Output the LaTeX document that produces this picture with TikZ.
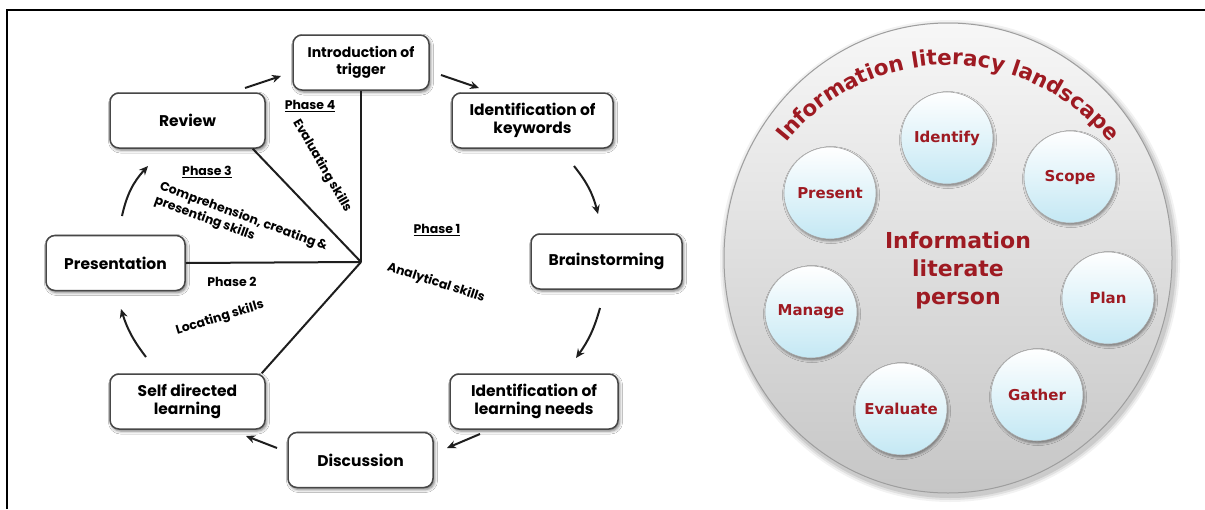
\documentclass[tikz,border=0pt]{standalone}
\usepackage{fontspec}
\newfontfamily\popf{Poppins Bold}
\newfontfamily\dvs{DejaVu Sans}
\usetikzlibrary{arrows.meta,shapes.geometric,shadows.blur,decorations.text,calc}
\definecolor{ilred}{RGB}{158,26,34}
\definecolor{bubblebot}{RGB}{196,232,244}
\definecolor{ink}{RGB}{30,30,30}

\begin{document}
\begin{tikzpicture}[x=1pt,y=1pt,
  stepbox/.style={draw=black!72, line width=1.5pt, rounded corners=9pt, fill=white,
    align=center, inner sep=0pt, minimum height=55pt,
    font=\popf\fontsize{15.5}{18.5}\selectfont,
    blur shadow={shadow xshift=1.5pt, shadow yshift=-2pt, shadow blur radius=3pt, shadow opacity=55}},
  flow/.style={ink, line width=2pt, -{Stealth[length=9pt,width=8pt]}},
  spoke/.style={ink, line width=2pt},
  lbl/.style={font=\popf\fontsize{12.5}{15}\selectfont, inner sep=0pt, align=left},
  bubble/.style={circle, minimum size=92pt, inner sep=0pt, draw=black!35, line width=0.6pt,
    top color=white, bottom color=bubblebot, text=ilred,
    font=\dvs\bfseries\fontsize{15}{18}\selectfont,
    blur shadow={shadow xshift=1pt, shadow yshift=-2pt, shadow blur radius=2.5pt, shadow opacity=45}},
]
\useasboundingbox (0,0) rectangle (1205,-509);
\fill[white] (0,0) rectangle (1205,-509);

% ---------- problem-based learning cycle ----------
\node[stepbox, minimum width=136pt, font=\popf\fontsize{14}{17}\selectfont] (intro) at (361,-62.5) {Introduction of\\trigger};
\node[stepbox, minimum width=155pt] (review)   at (187.5,-120.5) {Review};
\node[stepbox, minimum width=161pt] (keyw)     at (532.5,-120.5) {Identification of\\keywords};
\node[stepbox, minimum width=139pt] (pres)     at (115.5,-263)   {Presentation};
\node[stepbox, minimum width=151pt] (brain)    at (606.5,-261.5) {Brainstorming};
\node[stepbox, minimum width=155pt] (self)     at (187.5,-401.5) {Self directed\\learning};
\node[stepbox, minimum width=168pt] (idln)     at (534,-401.5)   {Identification of\\learning needs};
\node[stepbox, minimum width=145pt] (disc)     at (360.5,-460)   {Discussion};

% spokes meeting at the hub
\coordinate (hub) at (361,-262);
\draw[spoke] (intro.south) -- (hub);
\draw[spoke] ($(review.south east)+(-13,0)$) -- (hub);
\draw[spoke] (pres.east) -- (hub);
\draw[spoke] ($(self.north east)+(-4,0)$) -- (hub);

% frame
\draw[line width=1.6pt, black] (7,-509) -- (7,-10) -- (1205,-10);

% cycle arrows
\coordinate (a1s) at (245,-88);  \coordinate (a1e) at (281,-76);
\coordinate (a2s) at (441,-75);  \coordinate (a2e) at (479,-88);
\coordinate (a3s) at (574,-166); \coordinate (a3e) at (598,-214);
\coordinate (a4s) at (600,-308); \coordinate (a4e) at (576,-358);
\coordinate (a5s) at (480,-434); \coordinate (a5e) at (447,-448);
\coordinate (a6s) at (277,-448); \coordinate (a6e) at (246,-436);
\coordinate (a7s) at (146,-357); \coordinate (a7e) at (121,-309);
\coordinate (a8s) at (122,-216); \coordinate (a8e) at (148,-166);
\draw[flow] (a1s) -- (a1e);
\draw[flow] (a2s) -- (a2e);
\draw[flow] (a3s) to[bend left=12] (a3e);
\draw[flow] (a4s) to[bend left=10] (a4e);
\draw[flow] (a5s) -- (a5e);
\draw[flow] (a6s) -- (a6e);
\draw[flow] (a7s) to[bend left=10] (a7e);
\draw[flow] (a8s) to[bend left=15] (a8e);

% phase labels
\node[lbl] (ph4) at (310,-106) {\underline{Phase 4}};
\node[lbl, rotate=-60] (eval) at (322,-166) {Evaluating skills};
\node[lbl] (ph3) at (207,-172) {\underline{Phase 3}};
\node[lbl, rotate=-20] (comp) at (241,-224) {Comprehension, creating \&\\presenting skills};
\node[lbl] (ph1) at (437,-230) {\underline{Phase 1}};
\node[lbl, rotate=-18] (anal) at (436,-283) {Analytical skills};
\node[lbl] (ph2) at (232,-282) {Phase 2};
\node[lbl, rotate=17] (loc) at (220,-318) {Locating skills};

% ---------- information literacy landscape ----------
% soft shadow under the landscape disc
\foreach \k/\o in {6/0.05,4/0.07,2/0.09}
  \fill[black, opacity=\o] (950,-261) ellipse [x radius=224+\k, y radius=235+\k];
\node[ellipse, minimum width=448pt, minimum height=470pt, inner sep=0pt,
      draw=black!38, line width=1pt,
      top color={rgb,255:red,247;green,247;blue,247},
      bottom color={rgb,255:red,198;green,198;blue,198}]
      (landscape) at (948,-258) {};

\path[decorate, decoration={text along path, text align=center, text color=ilred,
      text={|\dvs\bfseries\fontsize{21.5}{21.5}\selectfont|Information literacy landscape}}]
  ($(948,-272)+(145:207)$) arc[start angle=145, end angle=35, radius=207];

\node[bubble] (identify) at (947,-138)  {Identify};
\node[bubble] (scope)    at (1070,-177) {Scope};
\node[bubble] (present)  at (830,-193)  {Present};
\node[bubble] (plan)     at (1108,-298) {Plan};
\node[bubble] (manage)   at (811,-312)  {Manage};
\node[bubble] (evaluate) at (901,-409)  {Evaluate};
\node[bubble] (gather)   at (1037,-395) {Gather};

\node[font=\dvs\bfseries\fontsize{22}{28}\selectfont, text=ilred, align=center]
  (person) at (958,-270) {Information\\literate\\person};
\end{tikzpicture}
\end{document}
